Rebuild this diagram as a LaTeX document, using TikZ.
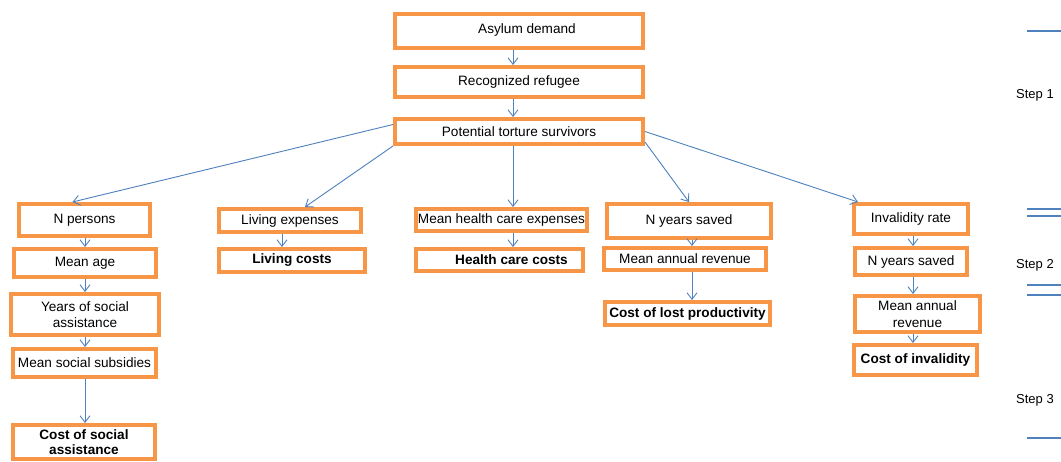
\documentclass[tikz,border=0pt]{standalone}
\usepackage{fontspec}
\setmainfont{Liberation Sans}
\usetikzlibrary{arrows.meta}

\definecolor{boxorange}{HTML}{F79646}
\definecolor{flowblue}{HTML}{4F81BD}

\begin{document}
\begin{tikzpicture}[x=1pt, y=-1pt,
		box/.style={draw=boxorange, line width=4pt, fill=white, inner sep=1pt, align=center, font=\fontsize{13.6}{16.5}\selectfont},
		costbox/.style={box, font=\fontsize{13.6}{15}\selectfont\bfseries},
		flow/.style={draw=flowblue, line width=0.9pt, -{Straight Barb[length=6.5pt,width=10pt]}},
		stepline/.style={draw=flowblue, line width=1.2pt},
		steplabel/.style={anchor=west, inner sep=0pt, font=\fontsize{13}{15}\selectfont}]
			\useasboundingbox (0,0) rectangle (1061,462);
			\fill[white] (0,0) rectangle (1061,462);
			
			% columns of the vertical arrows
			\coordinate (colA) at (85,0);
			\coordinate (colB) at (282,0);
			\coordinate (colC) at (513,0);
			\coordinate (colD) at (692,0);
			\coordinate (colE) at (913,0);
			
			% step 1
			\node[box, minimum width=248pt, minimum height=34pt] (asylum) at (519,31){\hspace*{16pt}\raisebox{4pt}{Asylum demand}};
			\node[box, minimum width=248pt, minimum height=30pt] (refugee) at (519,82){Recognized refugee};
			\node[box, minimum width=248pt, minimum height=25pt] (torture) at (519,131.5){Potential torture survivors};
			
			% step 2
			\node[box, minimum width=131pt, minimum height=32pt] (npersons) at (84.5,220){N persons};
			\node[box, minimum width=142pt, minimum height=28pt] (meanage) at (85,263){Mean age};
			\node[box, minimum width=148pt, minimum height=41pt] (years) at (85,314.5){Years of social\\assistance};
			\node[box, minimum width=143pt, minimum height=28pt] (subsidies) at (84.5,363){Mean social subsidies};
			
			\node[box, minimum width=142pt, minimum height=23pt] (livexp) at (290,220.5){Living expenses};
			\node[box, minimum width=171pt, minimum height=22pt] (healthexp) at (501.5,220){Mean health care expenses};
			
			\node[box, minimum width=164pt, minimum height=34pt] (nyears) at (689,221){N years saved};
			\node[box, minimum width=162pt, minimum height=22pt] (revenue) at (685,259){Mean annual revenue};
			
			\node[box, minimum width=114pt, minimum height=30pt] (invalid) at (911,219){Invalidity rate};
			\node[box, minimum width=112pt, minimum height=27pt] (nyearsb) at (911,261.5){N years saved};
			\node[box, minimum width=125pt, minimum height=36pt] (revenueb) at (917.5,314){Mean annual\\revenue};
			
			% step 3
			\node[costbox, minimum width=142pt, minimum height=34pt] (socialcost) at (84,442){Cost of social\\assistance};
			\node[costbox, minimum width=146pt, minimum height=23pt] (livcost) at (292,260.5){Living costs};
			\node[costbox, minimum width=167pt, minimum height=22pt] (healthcost) at (499.5,260){\hspace*{24pt}Health care costs};
			\node[costbox, minimum width=165pt, minimum height=23pt] (lostprod) at (687.5,313.5){Cost of lost productivity};
			\node[costbox, minimum width=123pt, minimum height=30pt] (invcost) at (915.5,360){Cost of invalidity};
			
			% vertical arrows
			\foreach \a/\b in {asylum/refugee, refugee/torture, torture/healthexp, healthexp/healthcost}
				\draw[flow] (\a.south -| colC) -- (\b.north -| colC);
			\foreach \a/\b in {npersons/meanage, meanage/years, years/subsidies, subsidies/socialcost}
				\draw[flow] (\a.south -| colA) -- (\b.north -| colA);
			\draw[flow] (livexp.south -| colB) -- (livcost.north -| colB);
			\foreach \a/\b in {nyears/revenue, revenue/lostprod}
				\draw[flow] (\a.south -| colD) -- (\b.north -| colD);
			\foreach \a/\b in {invalid/nyearsb, nyearsb/revenueb, revenueb/invcost}
				\draw[flow] (\a.south -| colE) -- (\b.north -| colE);
			
			% branches
			\draw[flow] ([yshift=7pt]torture.west) -- ([xshift=-12pt]npersons.north);
			\draw[flow] (torture.south west) -- ([xshift=15pt]livexp.north);
			\draw[flow] ([yshift=4pt]torture.south east) -- (nyears.north);
			\draw[flow] (torture.east) -- ([xshift=6pt]invalid.north west);
			
			% steps
			\node[steplabel] (step1) at (1016,95){Step 1};
			\node[steplabel] (step2) at (1016,265){Step 2};
			\node[steplabel] (step3) at (1016,400){Step 3};
			\foreach \y in {31,209,216,285,295,438}
				\draw[stepline] (1027,\y) -- (1061,\y);
			
		\end{tikzpicture}
\end{document}
